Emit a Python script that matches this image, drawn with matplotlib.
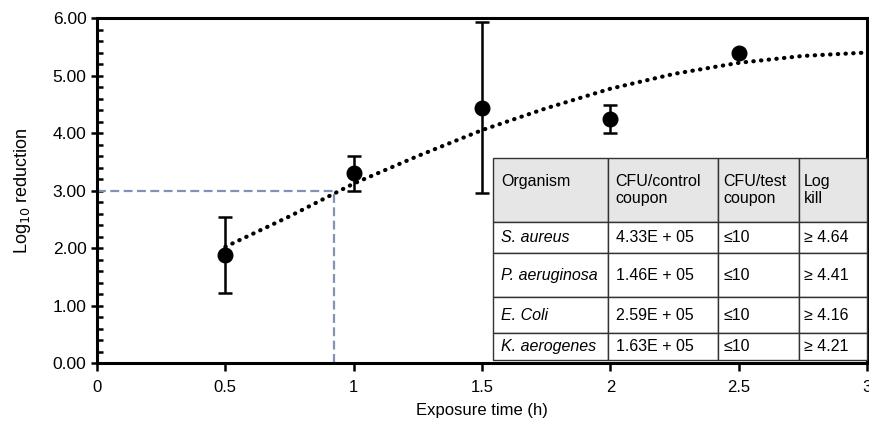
import matplotlib.pyplot as plt
from matplotlib.ticker import MultipleLocator, FormatStrFormatter

# measured points with error bars
times = [0.5, 1.0, 1.5, 2.0, 2.5]
log_red = [1.88, 3.30, 4.43, 4.24, 5.40]
err_low = [0.66, 0.30, 1.47, 0.24, 0.0]
err_high = [0.66, 0.30, 1.50, 0.25, 0.0]

# dotted trend curve
trend_x = [0.5, 0.75, 1.0, 1.25, 1.5, 1.75, 2.0, 2.25, 2.5, 2.75, 3.0]
trend_y = [2.02, 2.55, 3.12, 3.60, 4.05, 4.43, 4.77, 5.03, 5.22, 5.34, 5.40]

# 3 log reduction guide
guide_x = [0.0, 0.925, 0.925]
guide_y = [3.0, 3.0, 0.0]

# table contents
col_labels = ["Organism\n ", "CFU/control\ncoupon", "CFU/test\ncoupon", "Log\nkill"]
organisms = ["S. aureus", "P. aeruginosa", "E. Coli", "K. aerogenes"]
cfu_control = ["4.33E + 05", "1.46E + 05", "2.59E + 05", "1.63E + 05"]
cfu_test = ["\u226410", "\u226410", "\u226410", "\u226410"]
log_kill = ["\u2265 4.64", "\u2265 4.41", "\u2265 4.16", "\u2265 4.21"]

plt.rcParams["font.family"] = ["Liberation Sans", "DejaVu Sans"]

fig = plt.figure(figsize=(8.69, 4.22), dpi=100)
ax = fig.add_axes([97 / 869, 1 - 363 / 422, 770 / 869, 345 / 422])

ax.plot(guide_x, guide_y, color="#8193b3", lw=1.6, ls=(0, (4, 2)), zorder=2)
ax.plot(trend_x, trend_y, color="black", lw=3.0, ls=(0, (0.1, 1.75)),
        dash_capstyle="round", zorder=3)
ax.errorbar(times, log_red, yerr=[err_low, err_high], fmt="o", color="black",
            ms=10.5, elinewidth=1.8, capsize=5, capthick=1.8, zorder=4)

ax.set_xlim(0, 3)
ax.set_ylim(0, 6)
ax.yaxis.set_major_locator(MultipleLocator(1))
ax.yaxis.set_minor_locator(MultipleLocator(0.2))
ax.yaxis.set_major_formatter(FormatStrFormatter("%.2f"))
ax.set_xticks([0, 0.5, 1, 1.5, 2, 2.5, 3])
ax.set_xticklabels(["0", "0.5", "1", "1.5", "2", "2.5", "3"])

for s in ax.spines.values():
    s.set_linewidth(2.2)
ax.tick_params(axis="y", which="major", direction="inout", length=9, width=1.8,
               labelsize=12.5, pad=3)
ax.tick_params(axis="y", which="minor", direction="in", length=4, width=1.8)
ax.tick_params(axis="x", which="major", direction="out", length=6, width=1.8,
               labelsize=12, pad=6)

ax.set_xlabel("Exposure time (h)", fontsize=12, labelpad=6)
ax.set_ylabel("Log$_{10}$ reduction", fontsize=13, labelpad=14)

rows = [[o, c, t, k] for o, c, t, k in zip(organisms, cfu_control, cfu_test, log_kill)]
tbl = ax.table(cellText=rows, colLabels=col_labels, cellLoc="left", colLoc="left",
               colWidths=[115, 110, 81, 68],
               bbox=[(493 - 97) / 770, 3 / 345, (867 - 493) / 770, (360 - 158) / 345],
               zorder=5)
tbl.auto_set_font_size(False)
tbl.set_fontsize(11.5)
row_heights = [64, 31, 44, 36, 27]
for (r, c), cell in tbl.get_celld().items():
    cell.set_height(row_heights[r])
    cell.set_edgecolor("#333333")
    cell.set_linewidth(1.0)
    cell.PAD = 0.07
    if r == 0:
        cell.set_facecolor("#e6e6e6")
    else:
        cell.set_facecolor("white")
        if c == 0:
            cell.get_text().set_fontstyle("italic")

fig.savefig("out.png", dpi=100)
